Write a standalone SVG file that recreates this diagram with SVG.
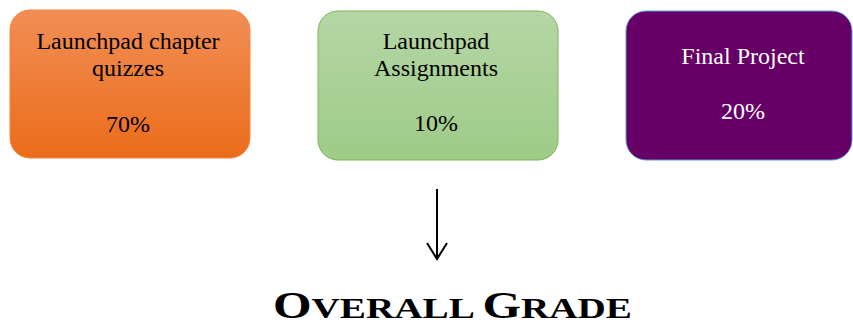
<svg xmlns="http://www.w3.org/2000/svg" width="853" height="327" viewBox="0 0 853 327">
  <style>
    .lbl { font-family: "Liberation Serif", "Times New Roman", serif; font-size: 24px; text-anchor: middle; }
    .dark { fill: #000000; }
    .light { fill: #ffffff; }
    .title { font-family: "Liberation Serif", "Times New Roman", serif; font-weight: bold; fill: #000000; }
    .conn { stroke: #000000; stroke-width: 2; fill: none; }
  </style>
  <defs>
    <linearGradient id="gOrange" x1="0" y1="0" x2="0" y2="1">
      <stop offset="0" stop-color="#F28E55"/>
      <stop offset="1" stop-color="#EA6C1A"/>
    </linearGradient>
    <linearGradient id="gGreen" x1="0" y1="0" x2="0" y2="1">
      <stop offset="0" stop-color="#B5D6A6"/>
      <stop offset="1" stop-color="#9ECB86"/>
    </linearGradient>
  </defs>
  <rect width="853" height="327" fill="#ffffff"/>

  <g id="node-quizzes">
    <rect x="10" y="10" width="240" height="148" rx="20" fill="url(#gOrange)" stroke="#F0873F" stroke-width="1"/>
    <text class="lbl dark" x="128" y="49">Launchpad chapter</text>
    <text class="lbl dark" x="128" y="76">quizzes</text>
    <text class="lbl dark" x="128" y="132">70%</text>
  </g>

  <g id="node-assignments">
    <rect x="318" y="11" width="240" height="149" rx="20" fill="url(#gGreen)" stroke="#7DB55D" stroke-width="1"/>
    <text class="lbl dark" x="436" y="49">Launchpad</text>
    <text class="lbl dark" x="436" y="76">Assignments</text>
    <text class="lbl dark" x="436" y="131">10%</text>
  </g>

  <g id="node-project">
    <rect x="626" y="11" width="226" height="149" rx="20" fill="#660066" stroke="#5B9BD5" stroke-width="1"/>
    <text class="lbl light" x="743" y="64">Final Project</text>
    <text class="lbl light" x="743" y="119">20%</text>
  </g>

  <g id="connectors">
    <line class="conn" x1="437" y1="189" x2="437" y2="259"/>
    <polyline class="conn" points="427,243 437,259 447,243"/>
  </g>

  <g id="node-overall">
    <text class="title" x="273" y="318" textLength="359" lengthAdjust="spacingAndGlyphs"><tspan font-size="38">O</tspan><tspan font-size="30">VERALL </tspan><tspan font-size="38">G</tspan><tspan font-size="30">RADE</tspan></text>
  </g>
</svg>
